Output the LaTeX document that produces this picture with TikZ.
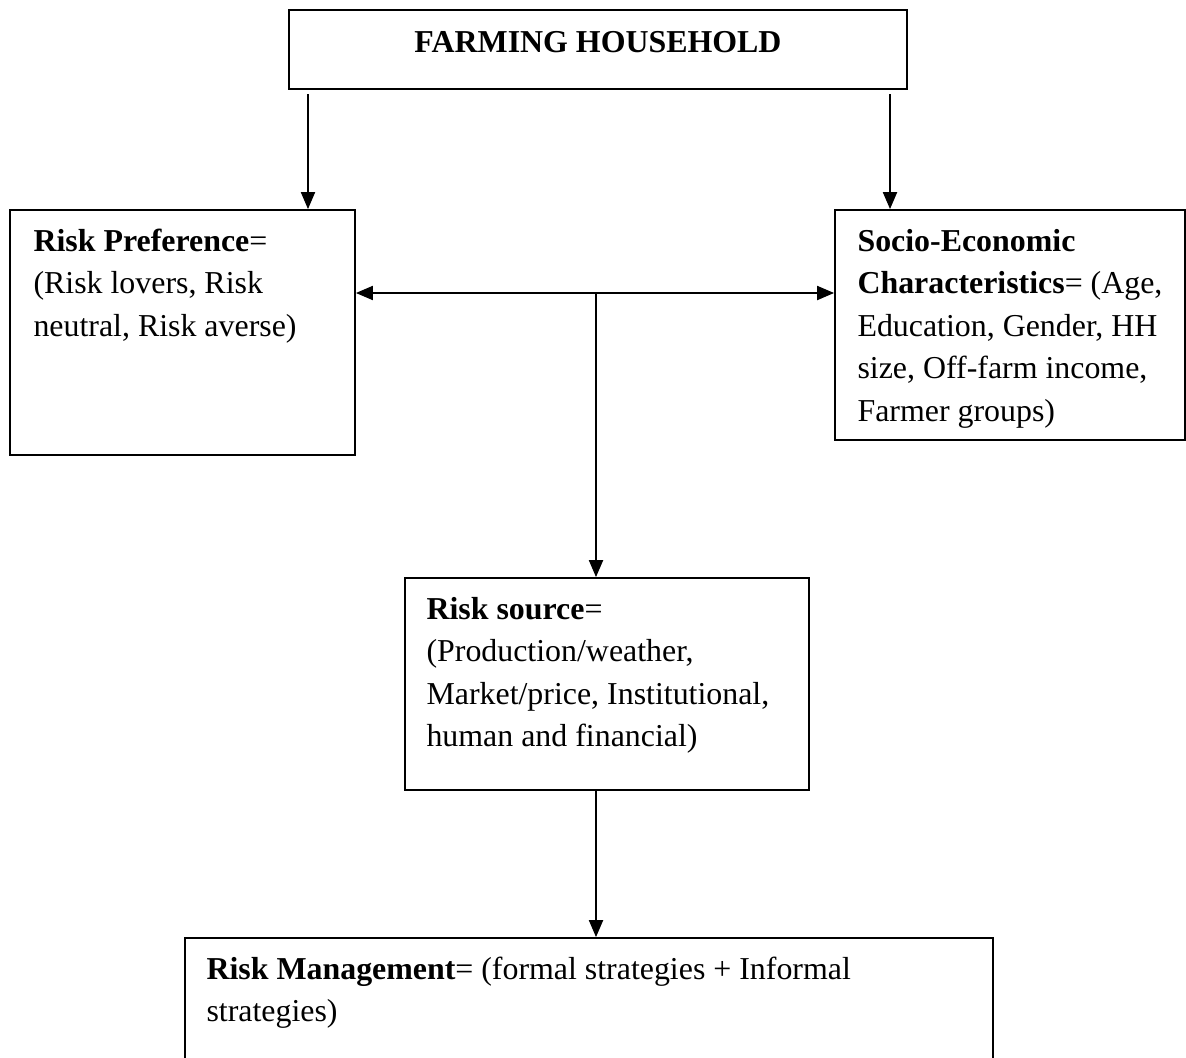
\documentclass[tikz,border=0pt]{standalone}
\usepackage{fontspec}
\setmainfont{Liberation Serif}
\usetikzlibrary{arrows.meta,fit}

\begin{document}
\begin{tikzpicture}[
  x=0.381pt, y=-0.381pt,
  box/.style={draw,line width=0.7pt,inner sep=0pt},
  txt/.style={anchor=base west,align=flush left,inner sep=0pt,text width=320pt,
    font=\fontsize{12.15}{16.2}\selectfont},
  flow/.style={-{Triangle[length=6.5pt,width=5.4pt]},line width=0.6pt}
]
  \useasboundingbox (0,0) rectangle (1186,1057);

  % boxes
  \node[box,fit={(289,10) (907,89)}] (hh) {};
  \node[box,fit={(10,210) (355,455)}] (pref) {};
  \node[box,fit={(835,210) (1185,440)}] (socio) {};
  \node[box,fit={(405,578) (809,790)}] (source) {};
  \node[box,fit={(185,938) (993,1075)}] (mgmt) {};

  % texts
  \node[anchor=base,inner sep=0pt,font=\fontsize{12.15}{16.2}\selectfont] (hhtxt) at (598,52)
    {\textbf{FARMING HOUSEHOLD}};
  \node[txt] (preftxt) at (33,251)
    {\textbf{Risk Preference}=\\(Risk lovers, Risk\\neutral, Risk averse)};
  \node[txt] (sociotxt) at (857,251)
    {\textbf{Socio-Economic}\\\textbf{Characteristics}= (Age,\\Education, Gender, HH\\size, Off-farm income,\\Farmer groups)};
  \node[txt] (sourcetxt) at (426,619)
    {\textbf{Risk source}=\\(Production/weather,\\Market/price, Institutional,\\human and financial)};
  \node[txt] (mgmttxt) at (206,979)
    {\textbf{Risk Management}= (formal strategies + Informal\\strategies)};

  % connectors
  \coordinate (l) at (308,94);
  \coordinate (r) at (890,94);
  \coordinate (mid) at (596,293);
  \draw[flow] (l) -- (l |- pref.north);
  \draw[flow] (r) -- (r |- socio.north);
  \draw[flow] (mid) -- (pref.east |- mid);
  \draw[flow] (mid) -- (socio.west |- mid);
  \draw[flow] (mid) -- (mid |- source.north);
  \draw[flow] (mid |- source.south) -- (mid |- mgmt.north);
\end{tikzpicture}
\end{document}
